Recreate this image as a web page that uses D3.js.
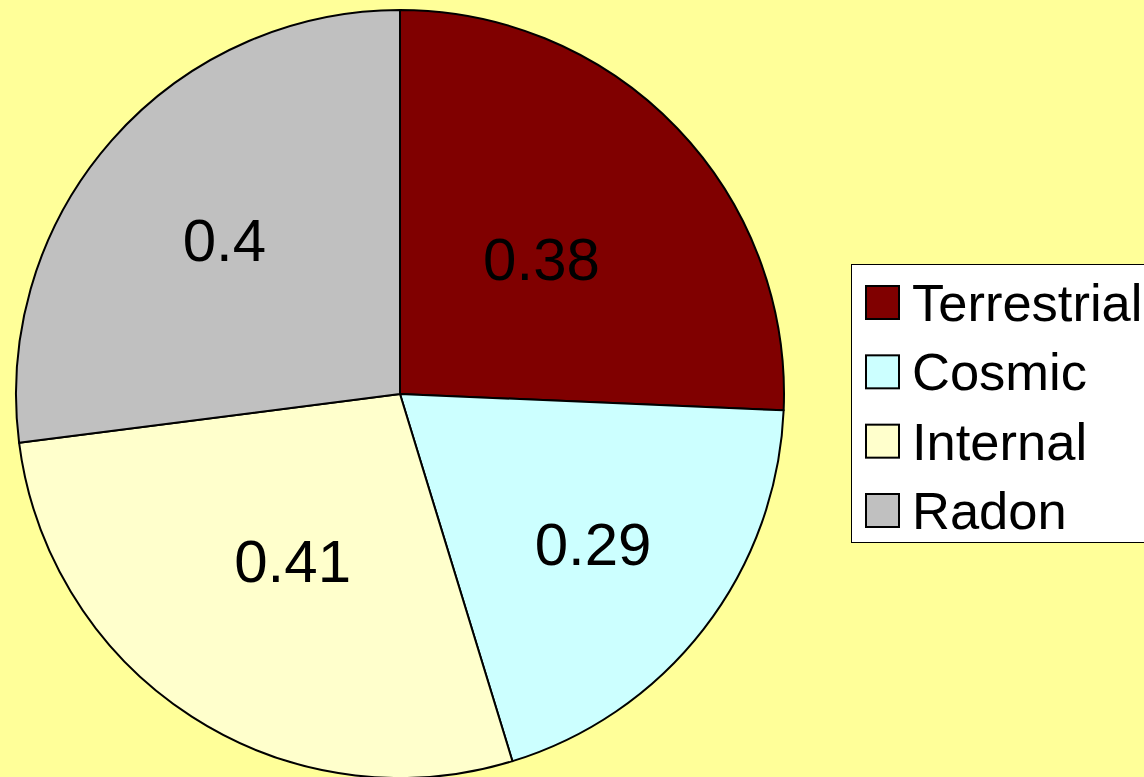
<!DOCTYPE html>
<html><head><meta charset="utf-8">
<script src="https://cdn.jsdelivr.net/npm/d3@7"></script>
<style>html,body{margin:0;padding:0;background:#FFFF99;overflow:hidden}</style>
</head><body>
<svg id="chart" width="1144" height="777"></svg>
<script>
const categories = ["Terrestrial", "Cosmic", "Internal", "Radon"];
const values = [0.38, 0.29, 0.41, 0.4];
const colors = ["#800000", "#CCFFFF", "#FFFFCC", "#C0C0C0"];

// layout constants (Excel "best fit" label distances from centre)
const labelRadii = [196, 244, 198, 234];

const svg = d3.select("#chart");
svg.append("rect").attr("width", 1144).attr("height", 777).attr("fill", "#FFFF99");

const cx = 400, cy = 394, R = 384;
const data = categories.map((c, i) => ({ name: c, value: values[i], color: colors[i], lr: labelRadii[i] }));
const pie = d3.pie().sort(null).value(d => d.value);
const arcs = pie(data);
const arc = d3.arc().innerRadius(0).outerRadius(R);

const g = svg.append("g").attr("transform", `translate(${cx},${cy})`);
g.selectAll("path").data(arcs).join("path")
  .attr("d", arc).attr("fill", d => d.data.color)
  .attr("stroke", "#000").attr("stroke-width", 2).attr("stroke-linejoin", "round");

g.selectAll("text").data(arcs).join("text")
  .attr("transform", d => {
    const la = d3.arc().innerRadius(d.data.lr).outerRadius(d.data.lr);
    return `translate(${la.centroid(d)})`;
  })
  .attr("text-anchor", "middle").attr("dy", "0.36em")
  .attr("font-family", "Liberation Sans, Arial, sans-serif").attr("font-size", 60)
  .attr("fill", "#000").text(d => d.data.value);

// legend
const lg = svg.append("g");
lg.append("rect").attr("x", 851.5).attr("y", 264.5).attr("width", 320).attr("height", 278)
  .attr("fill", "#fff").attr("stroke", "#000").attr("stroke-width", 1);
const rowY = d3.scalePoint().domain(categories).range([302, 510]);
const items = lg.selectAll("g.item").data(data).join("g").attr("class", "item")
  .attr("transform", d => `translate(0,${rowY(d.name)})`);
items.append("rect").attr("x", 866).attr("y", -16).attr("width", 33).attr("height", 33)
  .attr("fill", d => d.color).attr("stroke", "#000").attr("stroke-width", 2);
items.append("text").attr("x", 912).attr("y", 0).attr("dy", "0.36em")
  .attr("font-family", "Liberation Sans, Arial, sans-serif").attr("font-size", 52.5)
  .attr("fill", "#000").text(d => d.name);
</script>
</body></html>
